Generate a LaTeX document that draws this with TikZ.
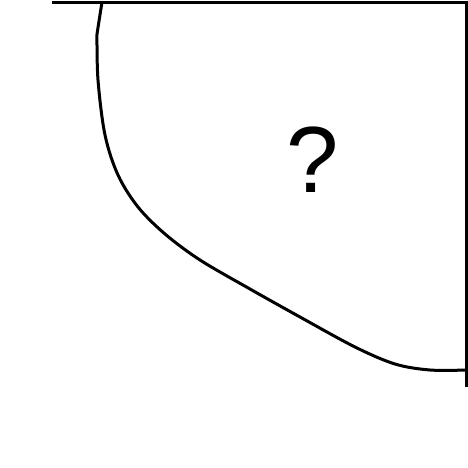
\documentclass[tikz,border=0pt]{standalone}
\usepackage{fontspec}
\setmainfont{Liberation Sans}
\tikzset{edge/.style={line width=3pt, line cap=butt, line join=round}}
\begin{document}
\begin{tikzpicture}[x=1pt,y=-1pt]
\useasboundingbox (0,0) rectangle (468,468);
\coordinate (tl) at (52,2.5);
\coordinate (tr) at (466,2.5);
\coordinate (br) at (466,387);
\draw[edge] (tl) -- (tr);
\draw[edge] (466,1) -- (br);
\draw[edge] (102,2) -- (97,34);
\draw[edge] plot[smooth, tension=0.55] coordinates {(97,34) (98,80) (105,135) (118,175) (138,207) (165,234) (200,260) (250,289) (300,317) (355,347) (395,364) (430,370) (466,370)};
\node[font=\fontsize{94}{94}\selectfont, anchor=base, inner sep=0pt] (q) at (313,192) {?};
\end{tikzpicture}
\end{document}
